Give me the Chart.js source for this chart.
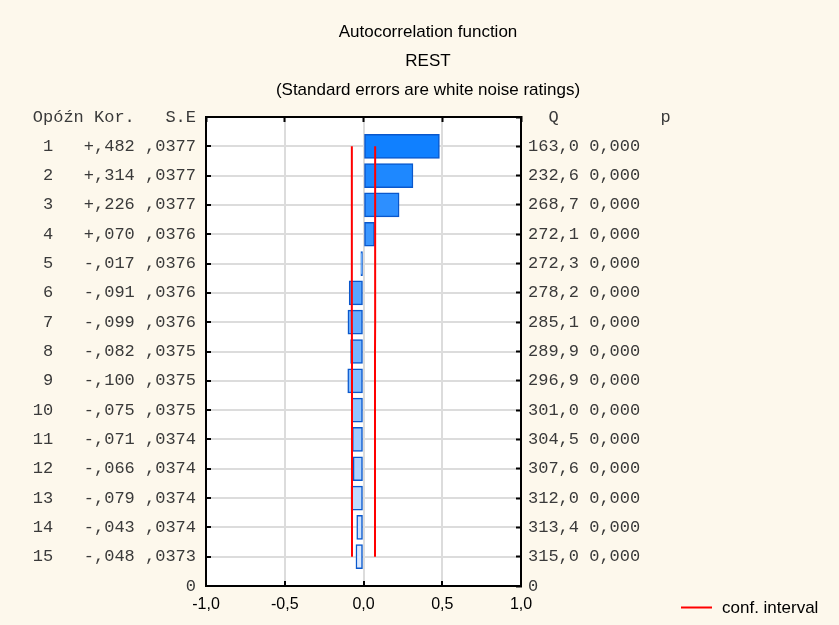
<!DOCTYPE html>
<html>
<head>
<meta charset="utf-8">
<script src="https://cdn.jsdelivr.net/npm/chart.js@4"></script>
<style>
  html, body { margin: 0; padding: 0; background: #fdf8ec; }
  #wrap { width: 839px; height: 625px; }
</style>
</head>
<body>
<div id="wrap"><canvas id="acfChart" width="839" height="625"></canvas></div>
<script>
// ACF table values
const lags = [1, 2, 3, 4, 5, 6, 7, 8, 9, 10, 11, 12, 13, 14, 15];
const kor = [0.482, 0.314, 0.226, 0.070, -0.017, -0.091, -0.099, -0.082, -0.100, -0.075, -0.071, -0.066, -0.079, -0.043, -0.048];
const se = [0.0377, 0.0377, 0.0377, 0.0376, 0.0376, 0.0376, 0.0376, 0.0375, 0.0375, 0.0375, 0.0374, 0.0374, 0.0374, 0.0374, 0.0373];
const qStat = [163.0, 232.6, 268.7, 272.1, 272.3, 278.2, 285.1, 289.9, 296.9, 301.0, 304.5, 307.6, 312.0, 313.4, 315.0];
const pVal = [0, 0, 0, 0, 0, 0, 0, 0, 0, 0, 0, 0, 0, 0, 0];
const ciLimit = [0.074, 0.074, 0.074, 0.074, 0.074, 0.074, 0.074, 0.073, 0.073, 0.073, 0.073, 0.073, 0.073, 0.073, 0.073];
const titleLines = ["Autocorrelation function", "REST", "(Standard errors are white noise ratings)"];
const leftHeader = "Opóźn Kor.   S.E";
const rightHeader = "  Q          p";

const fmtKor = (v) => (v >= 0 ? "+" : "-") + "," + Math.abs(v).toFixed(3).slice(2);
const fmtSe = (v) => "," + v.toFixed(4).slice(2);
const fmtComma = (v, d) => v.toFixed(d).replace(".", ",");

// bars fade from strong blue (lag 1) to pale blue (lag 15)
const barFill = lags.map((l, i) => {
  const t = i / (lags.length - 1);
  const r = Math.round(16 + (218 - 16) * t);
  const g = Math.round(128 + (233 - 128) * t);
  return `rgb(${r}, ${g}, 255)`;
});

const mono = { family: "'Liberation Mono', 'DejaVu Sans Mono', monospace", size: 17 };
const sans = "'Liberation Sans', Arial, sans-serif";

const backgroundPlugin = {
  id: "backgroundPlugin",
  beforeDraw(chart) {
    const { ctx, chartArea } = chart;
    ctx.save();
    ctx.fillStyle = "#fdf8ec";
    ctx.fillRect(0, 0, chart.width, chart.height);
    ctx.fillStyle = "#ffffff";
    ctx.fillRect(chartArea.left, chartArea.top, chartArea.right - chartArea.left, chartArea.bottom - chartArea.top);
    ctx.restore();
  },
};

const legendPlugin = {
  id: "legendPlugin",
  afterDraw(chart) {
    const { ctx } = chart;
    const ds = chart.data.datasets[0];
    ctx.save();
    ctx.strokeStyle = ds.borderColor;
    ctx.lineWidth = 2;
    ctx.beginPath();
    ctx.moveTo(681, 607.5);
    ctx.lineTo(712, 607.5);
    ctx.stroke();
    ctx.fillStyle = "#000";
    ctx.font = "17px " + sans;
    ctx.textBaseline = "middle";
    ctx.fillText(ds.label, 722, 608);
    ctx.restore();
  },
};

const ctx = document.getElementById("acfChart").getContext("2d");
const acfChart = new Chart(ctx, {
  data: {
    datasets: [
      {
        type: "line",
        label: "conf. interval",
        data: lags.map((l, i) => ({ x: ciLimit[i], y: l })),
        borderColor: "#ff0000",
        borderWidth: 2,
        pointRadius: 0,
        order: 1,
      },
      {
        type: "line",
        label: "conf. interval low",
        data: lags.map((l, i) => ({ x: -ciLimit[i], y: l })),
        borderColor: "#ff0000",
        borderWidth: 2,
        pointRadius: 0,
        order: 1,
      },
      {
        type: "bar",
        label: "ACF",
        data: lags.map((l, i) => ({ x: kor[i], y: l })),
        backgroundColor: barFill,
        borderColor: "#0a58cc",
        borderWidth: 1.5,
        borderSkipped: false,
        barThickness: 24,
        order: 2,
      },
    ],
  },
  options: {
    indexAxis: "y",
    responsive: false,
    animation: false,
    layout: { padding: { left: 17 } },
    scales: {
      x: {
        type: "linear",
        position: "bottom",
        min: -1,
        max: 1,
        ticks: {
          stepSize: 0.5,
          padding: 14,
          color: "#000",
          font: { family: sans, size: 16 },
          callback: (v) => fmtComma(v, 1),
        },
        grid: { color: "#dcdcdc", lineWidth: 2, tickLength: -5, tickColor: "#000", tickWidth: 2 },
        border: { color: "#000", width: 2 },
        afterFit: (s) => { s.height = 39; },
      },
      x2: {
        type: "linear",
        position: "top",
        min: -1,
        max: 1,
        ticks: { stepSize: 0.5, display: false },
        grid: { drawOnChartArea: false, tickLength: -5, tickColor: "#000", tickWidth: 2 },
        border: { color: "#000", width: 2 },
        afterFit: (s) => { s.height = 0; },
      },
      y: {
        type: "linear",
        position: "left",
        min: 0,
        max: 16,
        reverse: true,
        offset: false,
        ticks: {
          stepSize: 1,
          autoSkip: false,
          padding: 15,
          color: "#3a3a3a",
          font: mono,
          callback: (v) => {
            if (v === 0) return leftHeader;
            if (v === 16) return "0";
            const i = lags.indexOf(v);
            return String(lags[i]).padStart(2, " ") + "   " + fmtKor(kor[i]) + " " + fmtSe(se[i]);
          },
        },
        grid: { offset: false, color: "#dcdcdc", lineWidth: 2, tickLength: -5, tickColor: "#000", tickWidth: 2 },
        border: { color: "#000", width: 2 },
        afterFit: (s) => { s.width = 189; },
      },
      y2: {
        type: "linear",
        position: "right",
        min: 0,
        max: 16,
        reverse: true,
        offset: false,
        ticks: {
          stepSize: 1,
          autoSkip: false,
          padding: 12,
          color: "#3a3a3a",
          font: mono,
          callback: (v) => {
            if (v === 0) return rightHeader;
            if (v === 16) return "0";
            const i = lags.indexOf(v);
            return fmtComma(qStat[i], 1) + " " + fmtComma(pVal[i], 3);
          },
        },
        grid: { drawOnChartArea: false, tickLength: -5, tickColor: "#000", tickWidth: 2 },
        border: { color: "#000", width: 2 },
        afterFit: (s) => { s.width = 318; },
      },
    },
    plugins: {
      legend: { display: false },
      tooltip: { enabled: false },
      title: {
        display: true,
        text: titleLines,
        color: "#000",
        font: { family: sans, size: 17, weight: "normal", lineHeight: 29 / 17 },
        padding: { top: 18, bottom: 12 },
      },
    },
  },
  plugins: [backgroundPlugin, legendPlugin],
});
</script>
</body>
</html>
